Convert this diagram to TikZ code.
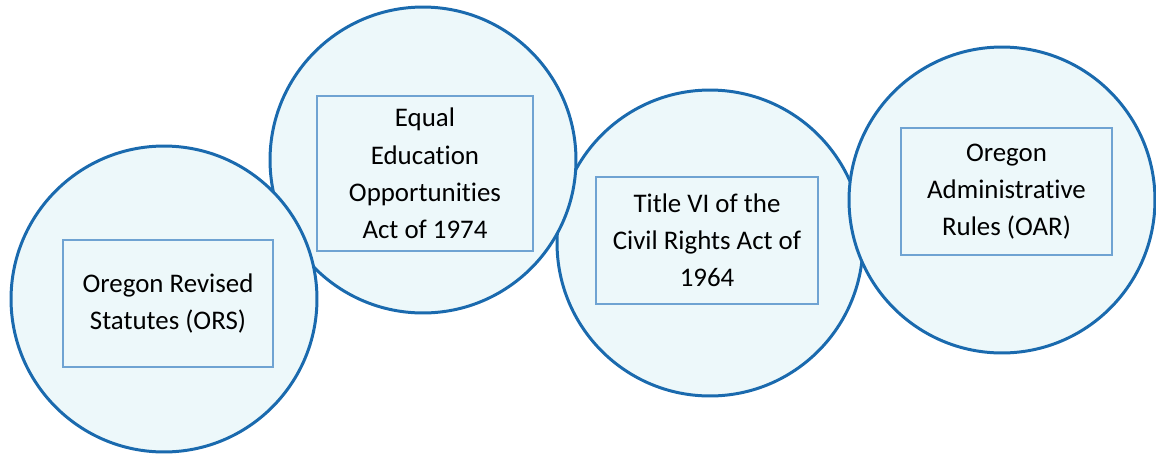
\documentclass[tikz,border=0pt]{standalone}
\usepackage{fontspec}
\setmainfont{Carlito}[Ligatures=NoCommon]

\definecolor{ringblue}{HTML}{1A6AAE}
\definecolor{boxblue}{HTML}{6FA3D2}
\definecolor{bubblefill}{HTML}{EDF8FA}

\begin{document}
\begin{tikzpicture}[
        x=0.02cm, y=-0.02cm,
        bubble/.style={circle, fill=bubblefill, draw=ringblue, line width=1.7pt, minimum size=6.12cm, inner sep=0pt, outer sep=0pt},
        lawbox/.style={rectangle, draw=boxblue, line width=0.8pt, align=center, inner sep=0pt, minimum height=2.54cm, font=\fontsize{15.3}{21.2}\selectfont},
    ]
        \useasboundingbox (0,0) rectangle (1156,454);

        % Draw the bubbles, the back ones first
        \foreach \name / \x / \y in {3/710/243, 2/423/160, 1/164/299, 4/1002/200}
            \node[bubble] (C-\name) at (\x,\y) {};

        % Draw the text boxes
        \node[lawbox, minimum width=4.2cm] (L-1) at (168,303.5) {Oregon Revised\\Statutes (ORS)};
        \node[lawbox, minimum width=4.32cm, minimum height=3.1cm] (L-2) at (425,173.5) {Equal\\Education\\Opportunities\\Act of 1974};
        \node[lawbox, minimum width=4.44cm] (L-3) at (707,240.5) {Title VI of the\\Civil Rights Act of\\1964};
        \node[lawbox, minimum width=4.22cm] (L-4) at (1006.5,191.5) {Oregon\\Administrative\\Rules (OAR)};
    \end{tikzpicture}
\end{document}
